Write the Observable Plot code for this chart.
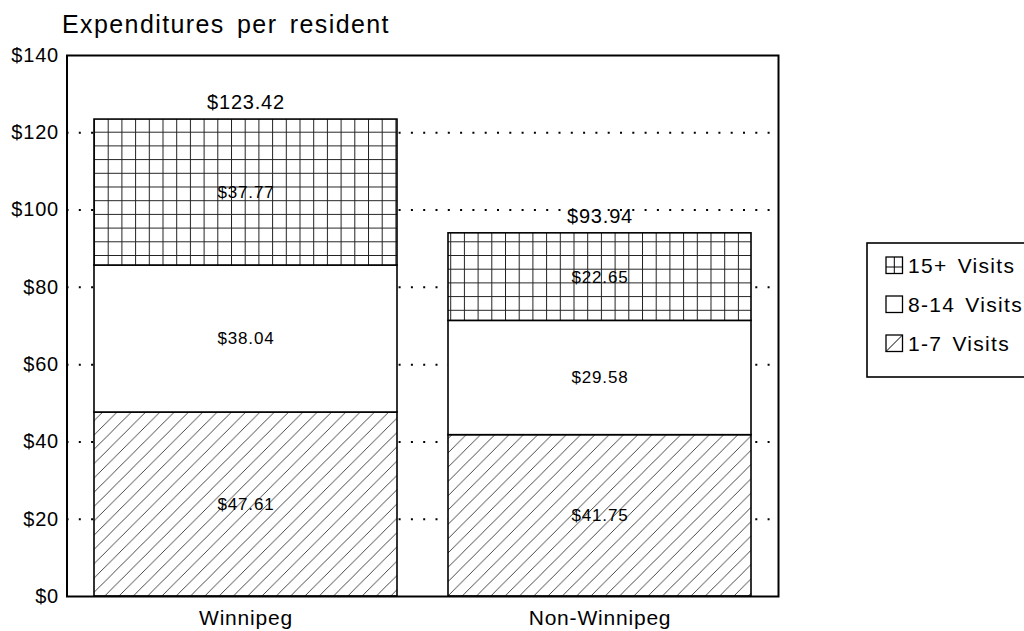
<!DOCTYPE html>
<html><head><meta charset="utf-8">
<script src="https://cdn.jsdelivr.net/npm/d3@7"></script>
<script src="https://cdn.jsdelivr.net/npm/@observablehq/plot@0.6"></script>
<style>
body{margin:0;background:#fff;}
#wrap{position:relative;width:1024px;height:631px;overflow:hidden;}
#title{position:absolute;left:62px;top:12px;font:25px/1 "Liberation Sans",Arial,sans-serif;letter-spacing:1.4px;word-spacing:4px;color:#000;white-space:nowrap;}
#wrap svg text{letter-spacing:0.8px;}
</style></head><body>
<svg width="0" height="0" style="position:absolute">
<defs>
<pattern id="hatch" patternUnits="userSpaceOnUse" width="14.3" height="14.3">
 <rect width="14.3" height="14.3" fill="#fff"/>
 <path d="M0,14.3 L14.3,0 M-2,2 L2,-2 M12.3,16.3 L16.3,12.3" stroke="#333" stroke-width="0.9"/>
</pattern>
<pattern id="grid" patternUnits="userSpaceOnUse" x="94" y="118" width="13.7" height="13.7">
 <rect width="13.7" height="13.7" fill="#fff"/>
 <path d="M0.5,0 V13.7 M0,0.5 H13.7" stroke="#222" stroke-width="1"/>
</pattern>
</defs></svg>
<div id="wrap"><div id="title">Expenditures per resident</div></div>
<script>
const regions = ["Winnipeg", "Non-Winnipeg"];
const series = ["1-7 Visits", "8-14 Visits", "15+ Visits"];
const winnipeg = [47.61, 38.04, 37.77];
const nonWinnipeg = [41.75, 29.58, 22.65];
const totals = [123.42, 93.94];
const yTicks = [0, 20, 40, 60, 80, 100, 120, 140];
const legendOrder = ["15+ Visits", "8-14 Visits", "1-7 Visits"];
const fills = ["url(#hatch)", "#fff", "url(#grid)"];

const byRegion = [winnipeg, nonWinnipeg];
const rows = regions.flatMap((r, i) => series.map((s, j) => ({region: r, series: s, value: byRegion[i][j]})));
const totalRows = regions.map((r, i) => ({region: r, total: totals[i]}));

const chart = Plot.plot({
  width: 1024,
  height: 631,
  marginLeft: 66.5,
  marginRight: 246,
  marginTop: 55,
  marginBottom: 35,
  style: {fontFamily: "'Liberation Sans', Arial, sans-serif", color: "#000", background: "transparent"},
  x: {domain: regions, paddingInner: 0.145, paddingOuter: 0.076, label: null},
  y: {domain: [0, 140], label: null},
  color: {domain: series, range: fills},
  marks: [
    Plot.gridY(yTicks.filter(v => v > 0 && v < 140), {stroke: "#000", strokeOpacity: 1, strokeWidth: 2, strokeDasharray: "2,10.3"}),
    Plot.barY(rows, {x: "region", y: "value", fill: "series", stroke: "#000", strokeWidth: 1.6}),
    Plot.text(rows, Plot.stackY({x: "region", y: "value", text: d => "$" + d.value.toFixed(2), fontSize: 17, fill: "#000"})),
    Plot.text(totalRows, {x: "region", y: "total", text: d => "$" + d.total.toFixed(2), dy: -17, fontSize: 20, fill: "#000"}),
    Plot.axisY({ticks: yTicks, tickFormat: d => "$" + d, tickSize: 0, tickPadding: 8, fontSize: 20, label: null}),
    Plot.axisX({tickSize: 0, tickPadding: 14, fontSize: 21, label: null}),
    Plot.frame({stroke: "#000", strokeWidth: 2})
  ]
});

document.getElementById("wrap").appendChild(chart);

// legend
const svg = d3.select(chart);
const lg = svg.append("g").attr("font-family", "'Liberation Sans', Arial, sans-serif").attr("text-anchor", "start");
lg.append("rect").attr("x", 867).attr("y", 243).attr("width", 200).attr("height", 134)
  .attr("fill", "#fff").attr("stroke", "#000").attr("stroke-width", 1.6);
legendOrder.forEach((s, i) => {
  const y0 = 257 + i * 39;
  const g = lg.append("g");
  g.append("rect").attr("x", 886).attr("y", y0).attr("width", 16.5).attr("height", 16.5)
    .attr("fill", "#fff").attr("stroke", "#000").attr("stroke-width", 1.3);
  if (s === "15+ Visits") {
    g.append("path").attr("d", `M886,${y0 + 10}H902.5M894.3,${y0}V${y0 + 16.5}`).attr("stroke", "#000").attr("stroke-width", 1);
  } else if (s === "1-7 Visits") {
    g.append("path").attr("d", `M886,${y0 + 16.5}L902.5,${y0}`).attr("stroke", "#000").attr("stroke-width", 1);
  }
  g.append("text").attr("x", 908).attr("y", y0 + 8.5).attr("dy", "0.35em").attr("text-anchor", "start")
    .attr("font-size", 21).attr("fill", "#000").style("letter-spacing", "1.3px").style("word-spacing", "3px").text(s);
});
</script>
</body></html>
